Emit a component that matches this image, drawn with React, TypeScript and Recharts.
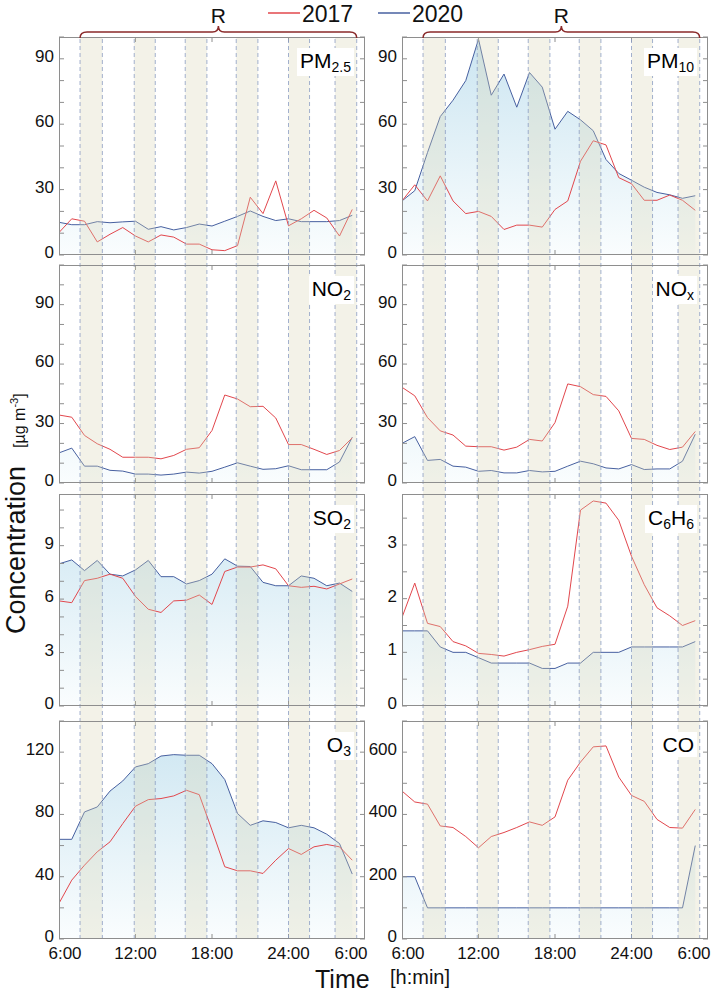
import React from 'react';
import { ComposedChart, Line, Area, XAxis, YAxis, ReferenceArea, ReferenceLine } from 'recharts';

// hourly samples, 6:00 to 5:00 next day (hours past midnight of day 1)
const HOURS = [6, 7, 8, 9, 10, 11, 12, 13, 14, 15, 16, 17, 18, 19, 20, 21, 22, 23, 24, 25, 26, 27, 28, 29];

const X_TICKS = [6, 12, 18, 24, 30];
const X_TICK_LABELS = ['6:00', '12:00', '18:00', '24:00', '6:00'];

// route (R) measurement windows
const BAND_START = [7.65, 11.9, 15.9, 19.9, 24.0, 27.65];
const BAND_END = [9.4, 13.55, 17.6, 21.6, 25.65, 29.35];

const PM25_2017 = [10.3, 16.6, 15.5, 6, 9.5, 12.6, 8.7, 6, 9.2, 8.2, 5, 5, 2.4, 2, 4.3, 26.5, 19, 34, 13.4, 16.6, 20.5, 17, 8.7, 20.9];
const PM25_2020 = [15, 13.9, 13.9, 15.3, 14.8, 15.2, 15.5, 11.8, 13, 11.5, 12.6, 14.2, 13.3, 15.5, 17.7, 20.2, 17.7, 15.8, 16.6, 15.3, 15.3, 15.3, 15.8, 18.2];
const PM10_2017 = [24.8, 32.2, 24.8, 36.3, 24.8, 19, 20, 17.7, 11.7, 13.7, 13.7, 12.8, 20.9, 24.8, 43, 52.4, 50.5, 35.5, 32.7, 25.1, 25.1, 27.5, 25.1, 20.5];
const PM10_2020 = [24.8, 29.5, 47, 63.5, 71, 80, 99, 73.3, 83, 67.8, 83.7, 77, 57.7, 65.9, 62, 57, 43.8, 37.4, 34.3, 31.1, 28.7, 27.6, 26, 27.2];
const NO2_2017 = [34.3, 33.2, 24, 19.8, 17, 13, 13, 13, 12.2, 13.9, 17, 17.8, 26.5, 44.4, 42.4, 38.5, 38.7, 32.8, 19.4, 19.4, 17, 14.4, 16.4, 22.8];
const NO2_2020 = [15.2, 17.6, 8.5, 8.5, 6.4, 6, 4.5, 4.5, 4, 4.5, 5.5, 5, 5.9, 8, 10.2, 8.5, 6.9, 7.2, 8.7, 6.7, 6.7, 6.7, 10.6, 23.1];
const NOX_2017 = [48.3, 44, 33, 26.3, 24.2, 18.6, 18.3, 18.3, 16.6, 18.1, 22, 21.2, 30.5, 50, 48.6, 44.6, 43.7, 36.4, 22.5, 22, 19, 16.9, 18.1, 26];
const NOX_2020 = [20, 23.4, 11.4, 11.9, 8.5, 8, 5.9, 6.3, 5.1, 5.1, 6.3, 5.6, 5.9, 8.5, 11, 9.7, 7.6, 7.1, 9.3, 6.8, 7.1, 7.1, 11, 24.6];
const SO2_2017 = [5.9, 5.8, 7.04, 7.17, 7.4, 7.17, 6.15, 5.43, 5.25, 5.9, 5.94, 6.23, 5.7, 7.55, 7.8, 7.8, 7.92, 7.7, 6.75, 6.66, 6.72, 6.57, 6.85, 7.13];
const SO2_2020 = [7.98, 8.2, 7.6, 8.17, 7.4, 7.3, 7.64, 8.17, 7.26, 7.26, 6.85, 7.04, 7.4, 8.26, 7.85, 7.83, 6.94, 6.75, 6.75, 7.3, 7.17, 6.75, 6.9, 6.43];
const C6H6_2017 = [1.65, 2.29, 1.54, 1.48, 1.2, 1.12, 0.98, 0.96, 0.93, 1.0, 1.05, 1.11, 1.15, 1.86, 3.65, 3.82, 3.78, 3.46, 2.79, 2.26, 1.83, 1.68, 1.5, 1.59];
const C6H6_2020 = [1.4, 1.4, 1.4, 1.1, 1.0, 1.0, 0.9, 0.8, 0.8, 0.8, 0.8, 0.7, 0.7, 0.8, 0.8, 1.0, 1.0, 1.0, 1.1, 1.1, 1.1, 1.1, 1.1, 1.2];
const O3_2017 = [22.9, 37.8, 47.4, 56, 62.4, 74.1, 85.3, 89.5, 90.2, 91.9, 95.5, 92.7, 69.9, 46.4, 43.8, 43.8, 42.1, 50.6, 58.1, 54.3, 59.2, 60.7, 59.2, 50.6];
const O3_2020 = [64, 64, 81.6, 84.8, 95, 101.5, 110.5, 112.6, 117.5, 118.4, 118, 118, 112.6, 102.4, 80.6, 73, 75.9, 74.8, 71.4, 73, 71.4, 67.3, 61.3, 41.7];
const CO_2017 = [475, 440, 433, 363, 358, 329, 293, 329, 342, 358, 376, 365, 392, 510, 568, 617, 620, 520, 461, 442, 384, 358, 356, 416];
const CO_2020 = [200, 200, 100, 100, 100, 100, 100, 100, 100, 100, 100, 100, 100, 100, 100, 100, 100, 100, 100, 100, 100, 100, 100, 300];

const PM_TICKS = [0, 10, 20, 30, 40, 50, 60, 70, 80, 90, 100];
const NO_TICKS = [0, 10, 20, 30, 40, 50, 60, 70, 80, 90, 100, 110];
const SO2_TICKS = [0, 1, 2, 3, 4, 5, 6, 7, 8, 9, 10, 11];
const C6H6_TICKS = [0, 0.5, 1, 1.5, 2, 2.5, 3, 3.5];
const O3_TICKS = [0, 20, 40, 60, 80, 100, 120, 140];
const CO_TICKS = [0, 100, 200, 300, 400, 500, 600, 700];

const FONT = '"Liberation Sans", Arial, Helvetica, sans-serif';
const RED = '#e2474d';
const BLUE = '#4760a0';
const FRAME = '#8e8e8e';

const COL_LEFT = [59, 402];
const PLOT_W = 306;
const ROW_TOP = [37, 265, 494, 721];
const ROW_BOTTOM = [255, 483, 706, 939];
const YW = 50;
const MT = 10;
const MR = 6;

type PanelDef = {
  name: string; sub?: string; name2?: string; sub2?: string;
  col: number; row: number; max: number; ticks: number[]; step: number;
  r: number[]; b: number[];
};

const PANELS: PanelDef[] = [
  { name: 'PM', sub: '2.5', col: 0, row: 0, max: 100, ticks: PM_TICKS, step: 30, r: PM25_2017, b: PM25_2020 },
  { name: 'PM', sub: '10', col: 1, row: 0, max: 100, ticks: PM_TICKS, step: 30, r: PM10_2017, b: PM10_2020 },
  { name: 'NO', sub: '2', col: 0, row: 1, max: 110, ticks: NO_TICKS, step: 30, r: NO2_2017, b: NO2_2020 },
  { name: 'NO', sub: 'x', col: 1, row: 1, max: 110, ticks: NO_TICKS, step: 30, r: NOX_2017, b: NOX_2020 },
  { name: 'SO', sub: '2', col: 0, row: 2, max: 11.9, ticks: SO2_TICKS, step: 3, r: SO2_2017, b: SO2_2020 },
  { name: 'C', sub: '6', name2: 'H', sub2: '6', col: 1, row: 2, max: 3.95, ticks: C6H6_TICKS, step: 1, r: C6H6_2017, b: C6H6_2020 },
  { name: 'O', sub: '3', col: 0, row: 3, max: 140, ticks: O3_TICKS, step: 40, r: O3_2017, b: O3_2020 },
  { name: 'CO', col: 1, row: 3, max: 700, ticks: CO_TICKS, step: 200, r: CO_2017, b: CO_2020 },
];

const Panel = ({ p, idx }: { p: PanelDef; idx: number }) => {
  const plotH = ROW_BOTTOM[p.row] - ROW_TOP[p.row];
  const bottomRow = p.row === 3;
  const XH = bottomRow ? 34 : 10;
  const W = YW + PLOT_W + MR;
  const H = MT + plotH + XH;
  const data = HOURS.map((h, i) => ({ h, r: p.r[i], b: p.b[i] }));
  const gid = 'blueFill' + idx;

  const yTick = (props: any) => {
    const { y, payload } = props;
    const v = payload.value;
    const major = Math.abs(v / p.step - Math.round(v / p.step)) < 1e-6;
    return (
      <g>
        <line x1={YW} x2={YW + 5} y1={y} y2={y} stroke={FRAME} />
        <line x1={YW + PLOT_W - 5} x2={YW + PLOT_W} y1={y} y2={y} stroke={FRAME} />
        {major && (
          <text x={YW - 5} y={y} dy={3} textAnchor="end" fontSize={17} fontFamily={FONT} fill="#111">
            {v}
          </text>
        )}
      </g>
    );
  };

  const xTick = (props: any) => {
    const { x, index } = props;
    const last = X_TICKS.length - 1;
    const off = index === 0 ? 6 : index === last ? -14 : 0;
    const inner = index !== 0 && index !== last;
    return (
      <g>
        {inner && <line x1={x} x2={x} y1={MT + plotH} y2={MT + plotH - 5} stroke={FRAME} />}
        {inner && <line x1={x} x2={x} y1={MT} y2={MT + 5} stroke={FRAME} />}
        {bottomRow && (
          <text x={x + off} y={MT + plotH + 20} textAnchor="middle" fontSize={17} fontFamily={FONT} fill="#111">
            {X_TICK_LABELS[index]}
          </text>
        )}
      </g>
    );
  };

  return (
    <div style={{ position: 'absolute', left: COL_LEFT[p.col] - YW, top: ROW_TOP[p.row] - MT, zIndex: 1 }}>
      <ComposedChart width={W} height={H} data={data} margin={{ top: MT, right: MR, bottom: 0, left: 0 }}>
        <defs>
          <linearGradient id={gid} x1="0" y1={MT} x2="0" y2={MT + plotH} gradientUnits="userSpaceOnUse">
            <stop offset="0%" stopColor="#cbe5f1" />
            <stop offset="100%" stopColor="#fafdfe" />
          </linearGradient>
        </defs>
        <XAxis
          type="number"
          dataKey="h"
          domain={[6, 30]}
          ticks={X_TICKS}
          interval={0}
          height={XH}
          axisLine={false}
          tickLine={false}
          tick={xTick}
          allowDataOverflow
        />
        <YAxis
          type="number"
          domain={[0, p.max]}
          ticks={p.ticks}
          interval={0}
          width={YW}
          axisLine={false}
          tickLine={false}
          tick={yTick}
          allowDataOverflow
        />
        <Area
          type="linear"
          dataKey="b"
          stroke={BLUE}
          strokeWidth={1}
          fill={`url(#${gid})`}
          fillOpacity={1}
          dot={false}
          activeDot={false}
          isAnimationActive={false}
        />
        <Line
          type="linear"
          dataKey="r"
          stroke={RED}
          strokeWidth={1}
          dot={false}
          activeDot={false}
          isAnimationActive={false}
        />
      </ComposedChart>
    </div>
  );
};

// route windows drawn once per column, through the gaps between panels
const Bands = ({ col }: { col: number }) => {
  const data = HOURS.map((h) => ({ h }));
  return (
    <div style={{ position: 'absolute', left: COL_LEFT[col], top: ROW_TOP[0], zIndex: 2, pointerEvents: 'none' }}>
      <ComposedChart width={PLOT_W} height={ROW_BOTTOM[3] - ROW_TOP[0]} data={data} margin={{ top: 0, right: 0, bottom: 0, left: 0 }}>
        <XAxis type="number" dataKey="h" domain={[6, 30]} allowDataOverflow hide />
        <YAxis type="number" domain={[0, 1]} allowDataOverflow hide />
        {/* carrier series, not drawn; gives the chart a graphical item */}
        <Line dataKey="h" stroke="none" dot={false} activeDot={false} isAnimationActive={false} />
        {BAND_START.map((s, i) => (
          <ReferenceArea
            key={'a' + i}
            x1={s}
            x2={BAND_END[i]}
            y1={0}
            y2={1}
            fill="#d8d4b4"
            fillOpacity={0.3}
            stroke="none"
            ifOverflow="visible"
          />
        ))}
        {BAND_START.concat(BAND_END).map((x, i) => (
          <ReferenceLine
            key={'l' + i}
            x={x}
            stroke="#8c9dc3"
            strokeDasharray="4 3"
            strokeWidth={0.8}
            ifOverflow="visible"
          />
        ))}
      </ComposedChart>
    </div>
  );
};

const PanelName = ({ p }: { p: PanelDef }) => {
  const right = COL_LEFT[p.col] + PLOT_W - 11;
  const subStyle = { fontSize: 14, verticalAlign: '-4px' };
  return (
    <div
      style={{
        position: 'absolute',
        right: 714 - right,
        top: ROW_TOP[p.row] + 11,
        zIndex: 4,
        background: '#fff',
        padding: '2px 3px',
        fontFamily: FONT,
        fontSize: 21,
        lineHeight: 1,
        color: '#000',
        whiteSpace: 'nowrap',
      }}
    >
      {p.name}
      {p.sub && <span style={subStyle}>{p.sub}</span>}
      {p.name2}
      {p.sub2 && <span style={subStyle}>{p.sub2}</span>}
    </div>
  );
};

const brace = (x1: number, x2: number) => {
  const xm = (x1 + x2) / 2;
  return `M${x1},38 Q${x1},32 ${x1 + 7},32 L${xm - 6},32 Q${xm},32 ${xm},26 Q${xm},32 ${xm + 6},32 L${x2 - 7},32 Q${x2},32 ${x2},38`;
};

export default function App() {
  const bx = [
    [COL_LEFT[0] + (BAND_START[0] - 6) * 12.75, COL_LEFT[0] + (BAND_END[5] - 6) * 12.75],
    [COL_LEFT[1] + (BAND_START[0] - 6) * 12.75, COL_LEFT[1] + (BAND_END[5] - 6) * 12.75],
  ];
  return (
    <div style={{ position: 'absolute', left: 0, top: 0, width: 714, height: 994, background: '#fff', overflow: 'hidden' }}>
      {PANELS.map((p, i) => (
        <Panel key={i} p={p} idx={i} />
      ))}
      <Bands col={0} />
      <Bands col={1} />
      {PANELS.map((p, i) => (
        <div
          key={'f' + i}
          style={{
            position: 'absolute',
            left: COL_LEFT[p.col],
            top: ROW_TOP[p.row],
            width: PLOT_W,
            height: ROW_BOTTOM[p.row] - ROW_TOP[p.row],
            border: `1px solid ${FRAME}`,
            boxSizing: 'border-box',
            zIndex: 3,
          }}
        />
      ))}
      {PANELS.map((p, i) => (
        <PanelName key={'n' + i} p={p} />
      ))}
      <svg width={714} height={994} style={{ position: 'absolute', left: 0, top: 0, zIndex: 5, pointerEvents: 'none' }}>
        {bx.map(([a, b], i) => (
          <g key={i}>
            <path d={brace(a, b)} fill="none" stroke="#8a2a2a" strokeWidth={1.5} />
            <text x={(a + b) / 2} y={23} textAnchor="middle" fontSize={21} fontFamily={FONT} fill="#111">
              R
            </text>
          </g>
        ))}
        <line x1={268} x2={300} y1={13} y2={13} stroke={RED} strokeWidth={1.5} />
        <text x={302} y={22} fontSize={23} fontFamily={FONT} fill="#111">2017</text>
        <line x1={378} x2={410} y1={13} y2={13} stroke={BLUE} strokeWidth={1.5} />
        <text x={412} y={22} fontSize={23} fontFamily={FONT} fill="#111">2020</text>
        <text transform="translate(25,634) rotate(-90)" fontFamily={FONT} fill="#111">
          <tspan fontSize={27}>Concentration</tspan>
          <tspan fontSize={16} dx={18}>[µg m</tspan>
          <tspan fontSize={11} dy={-7}>-3</tspan>
          <tspan fontSize={16} dy={7}>]</tspan>
        </text>
        <text x={315} y={988} fontSize={25} fontFamily={FONT} fill="#111">Time</text>
        <text x={390} y={984} fontSize={20} fontFamily={FONT} fill="#111">[h:min]</text>
      </svg>
    </div>
  );
}
